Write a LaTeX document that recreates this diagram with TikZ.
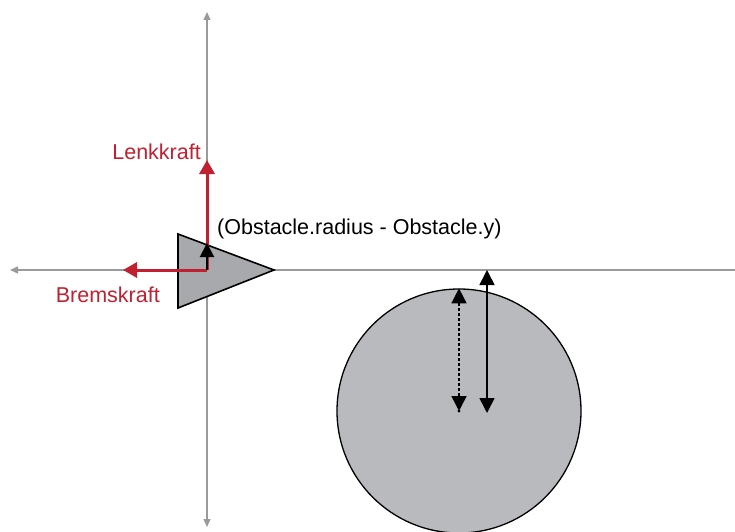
\documentclass[tikz,border=0pt]{standalone}
\usepackage{fontspec}
\setmainfont{Liberation Sans}
\usepackage{tikz}
\usetikzlibrary{arrows.meta, positioning, shapes.geometric}
\definecolor{forcered}{HTML}{C0202F}
\definecolor{carfill}{HTML}{A7A9AC}
\definecolor{obstfill}{HTML}{B9BABD}
\definecolor{axisgray}{HTML}{9A9A9A}
\tikzset{
  axisline/.style={axisgray, line width=1.3pt, -{Triangle[length=8pt, width=7pt]}},
  forcearrow/.style={forcered, line width=3pt, -{Triangle[length=14pt, width=15pt]}},
  distarrow/.style={black, line width=1.6pt, {Triangle[length=15pt, width=15pt]}-{Triangle[length=15pt, width=15pt]}},
  forcelabel/.style={forcered, font=\fontsize{21.5}{25}\selectfont, inner sep=0pt}
}
\begin{document}
\begin{tikzpicture}[x=1pt, y=1pt]
\useasboundingbox (0,0) rectangle (735,531);
% Axes
\coordinate (O) at (207,261);
\coordinate (axisL) at (10,261);
\coordinate (axisR) at (735,261);
\coordinate (axisT) at (207,519);
\coordinate (axisB) at (207,4);
\draw[axisline] (O) -- (axisL);
\draw[axisline, -] (O) -- (axisR);
\draw[axisline] (O) -- (axisT);
\draw[axisline] (O) -- (axisB);
% Vehicle (triangle)
\coordinate (carA) at (178,297);
\coordinate (carB) at (178,223);
\coordinate (carC) at (274,261);
\draw[black, line width=1.6pt, fill=carfill, line join=miter] (carA) -- (carB) -- (carC) -- cycle;
% Obstacle
\node[circle, draw=black, line width=1.3pt, fill=obstfill, minimum size=244pt, inner sep=0pt] (obstacle) at (459,120) {};
% Forces
\coordinate (lenkTip) at (207,371);
\coordinate (bremsTip) at (123,261);
\draw[forcearrow] (O) -- (lenkTip);
\draw[forcearrow] (O) -- (bremsTip);
\node[forcelabel, anchor=east] (lenk) at (201,379) {Lenkkraft};
\node[forcelabel, anchor=north east] (brems) at (160,244) {Bremskraft};
% Distance to obstacle
\coordinate (offTip) at (207,288);
\draw[black, line width=2pt, -{Triangle[length=14pt, width=14pt]}] (O) -- (offTip);
\node[font=\fontsize{21.5}{25}\selectfont, anchor=west, inner sep=0pt] (offset) at (217,302) {(Obstacle.radius - Obstacle.y)};
\coordinate (radTop) at (obstacle.north);
\draw[distarrow, dash pattern=on 3pt off 2pt] (obstacle.center) -- (radTop);
\fill (obstacle.center) circle (1.6pt);
\coordinate (yTop) at (487,261);
\coordinate (yBot) at (487,118);
\draw[distarrow] (yBot) -- (yTop);
\end{tikzpicture}
\end{document}
